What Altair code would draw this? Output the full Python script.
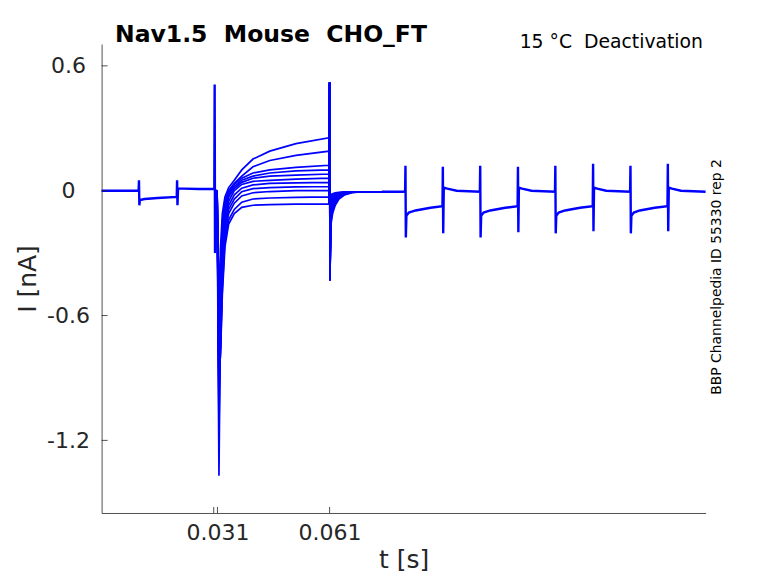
import altair as alt
import pandas as pd

# ---------------- data (times in ms, currents in nA) ----------------
PRE_T = [0, 9.9, 10.0, 10.1, 10.25, 11.5, 15, 20.1, 20.2, 20.3, 20.45, 22, 26, 30.15, 30.25, 30.35, 30.5, 30.9]
PRE_I = [0.0, 0.0, 0.05, -0.07, -0.045, -0.04, -0.035, -0.03, 0.05, -0.07, 0.01, 0.01, 0.008, 0.008, 0.51, -0.30, 0.0, 0.0]

ACT_T = [31.4, 31.8, 32.3, 33.0, 34.0, 35.5, 37.5, 40.5, 45, 52, 60.8]
ACT = [
    [-0.55, -0.28, -0.11, -0.03, 0.015, 0.05, 0.10, 0.152, 0.19, 0.226, 0.254],
    [-0.70, -0.36, -0.15, -0.05, 0.0, 0.035, 0.07, 0.115, 0.145, 0.17, 0.19],
    [-0.85, -0.44, -0.19, -0.07, -0.01, 0.03, 0.06, 0.085, 0.10, 0.112, 0.122],
    [-0.95, -0.50, -0.23, -0.09, -0.02, 0.02, 0.05, 0.07, 0.085, 0.095, 0.10],
    [-1.05, -0.56, -0.27, -0.11, -0.03, 0.01, 0.04, 0.06, 0.07, 0.075, 0.08],
    [-1.37, -0.62, -0.31, -0.13, -0.05, 0.0, 0.03, 0.045, 0.05, 0.056, 0.06],
    [-1.15, -0.68, -0.35, -0.15, -0.07, -0.02, 0.012, 0.028, 0.035, 0.038, 0.04],
    [-1.00, -0.72, -0.39, -0.18, -0.09, -0.04, -0.005, 0.01, 0.015, 0.018, 0.02],
    [-0.92, -0.75, -0.43, -0.21, -0.11, -0.06, -0.025, -0.01, -0.004, 0.0, 0.0],
    [-0.88, -0.78, -0.47, -0.24, -0.14, -0.09, -0.055, -0.04, -0.035, -0.032, -0.03],
    [-0.84, -0.80, -0.50, -0.27, -0.16, -0.11, -0.08, -0.07, -0.067, -0.065, -0.065],
]

SPIKE_T = [61.0, 61.1]
SPIKE_I = [0.52, -0.43]

TAIL_T = [61.3, 61.8, 62.5, 63.5, 65, 67, 70, 75]
TAIL = [
    [-0.17, -0.11, -0.07, -0.04, -0.02, -0.01, -0.005, -0.005],
    [-0.15, -0.10, -0.06, -0.035, -0.018, -0.008, -0.005, -0.005],
    [-0.13, -0.085, -0.05, -0.03, -0.015, -0.007, -0.005, -0.005],
    [-0.115, -0.075, -0.045, -0.027, -0.013, -0.006, -0.005, -0.005],
    [-0.10, -0.065, -0.04, -0.024, -0.012, -0.006, -0.005, -0.005],
    [-0.09, -0.058, -0.035, -0.021, -0.011, -0.006, -0.005, -0.005],
    [-0.075, -0.048, -0.03, -0.018, -0.01, -0.006, -0.005, -0.005],
    [-0.06, -0.04, -0.025, -0.015, -0.009, -0.006, -0.005, -0.005],
    [-0.045, -0.03, -0.02, -0.012, -0.008, -0.005, -0.005, -0.005],
    [-0.03, -0.02, -0.014, -0.01, -0.007, -0.005, -0.005, -0.005],
    [-0.02, -0.015, -0.01, -0.008, -0.006, -0.005, -0.005, -0.005],
]

POST_T = [75, 81.2, 81.3, 81.4, 81.55, 82.2, 84, 88, 91.2,
          91.3, 91.4, 91.55, 92.5, 95, 101.2,
          101.3, 101.4, 101.55, 102.2, 104, 108, 111.3,
          111.4, 111.5, 111.65, 112.5, 115, 121.3,
          121.4, 121.5, 121.65, 122.3, 124, 128, 131.4,
          131.5, 131.6, 131.75, 132.6, 135, 141.4,
          141.5, 141.6, 141.75, 142.4, 144, 148, 151.4,
          151.5, 151.6, 151.75, 152.6, 155, 161.6]
POST_I = [-0.005, -0.005, 0.12, -0.225, -0.12, -0.105, -0.095, -0.082, -0.075,
          0.115, -0.205, 0.015, 0.01, 0.0, -0.005,
          0.12, -0.225, -0.12, -0.105, -0.095, -0.082, -0.075,
          0.115, -0.20, 0.015, 0.01, 0.0, -0.005,
          0.12, -0.205, -0.12, -0.105, -0.095, -0.082, -0.075,
          0.13, -0.195, 0.015, 0.01, 0.0, -0.005,
          0.12, -0.205, -0.12, -0.105, -0.095, -0.082, -0.075,
          0.13, -0.195, 0.015, 0.01, 0.0, -0.005]

X_TICKS = [0.030, 0.031, 0.061]
Y_TICKS = [0.6, 0.0, -0.6, -1.2]

TITLE = "Nav1.5\u00a0 Mouse\u00a0 CHO_FT"
SUBTITLE = "15 \u00b0C\u00a0 Deactivation"
SIDE = "BBP Channelpedia ID 55330 rep 2"

# ---------------- build tables ----------------
rows = []
k = 0
for t, v in zip(PRE_T, PRE_I):
    rows.append({"t": t / 1000.0, "I": v, "sweep": "pre", "k": k}); k += 1
k = 0
for t, v in zip(POST_T, POST_I):
    rows.append({"t": t / 1000.0, "I": v, "sweep": "post", "k": k}); k += 1
shared = pd.DataFrame(rows)

rows = []
for s, (act, tail) in enumerate(zip(ACT, TAIL)):
    k = 0
    ts = [30.9] + ACT_T + SPIKE_T + TAIL_T
    vs = [0.0] + act + SPIKE_I + tail
    for t, v in zip(ts, vs):
        rows.append({"t": t / 1000.0, "I": v, "sweep": f"s{s}", "k": k}); k += 1
traces = pd.DataFrame(rows)

W, H = 604, 469
FONT = "DejaVu Sans"
AX = "#262626"
BLUE = "#0000ff"

xscale = alt.Scale(domain=[0, 0.1616], nice=False, zero=False)
yscale = alt.Scale(domain=[-1.549, 0.705], nice=False, zero=False)

xaxis = alt.Axis(values=X_TICKS, ticks=False, tickSize=0, grid=False,
                 labelExpr="abs(datum.value - 0.03) < 0.0001 ? '' : format(datum.value, '.3f')",
                 labelFont=FONT, labelFontSize=22, labelColor=AX, labelPadding=10,
                 labelFlush=False, labelOverlap=False,
                 domainColor=AX, domainWidth=0.8,
                 title="t [s]", titleFont=FONT, titleFontSize=25, titleFontWeight="normal",
                 titleColor=AX, titleBaseline="alphabetic", titleY=55, titleX=W / 2,
                 titleAlign="center")
yaxis = alt.Axis(values=Y_TICKS, ticks=False, tickSize=0, grid=False,
                 labelExpr="datum.value == 0 ? '0' : (datum.value < 0 ? '-' + format(-datum.value, '.1f') : format(datum.value, '.1f'))",
                 labelFont=FONT, labelFontSize=22, labelColor=AX, labelPadding=33.6,
                 labelAlign="center", labelBaseline="middle", labelFlush=False, labelOverlap=False,
                 domainColor=AX, domainWidth=0.8,
                 title="I [nA]", titleFont=FONT, titleFontSize=25, titleFontWeight="normal",
                 titleColor=AX, titleAngle=270, titleBaseline="alphabetic", titleAlign="center",
                 titleX=-66.5, titleY=H / 2)

X = alt.X("t:Q", scale=xscale, axis=xaxis)
Y = alt.Y("I:Q", scale=yscale, axis=yaxis)

base_shared = alt.Chart(shared).mark_line(color=BLUE, strokeWidth=2.4).encode(
    x=X, y=Y, detail="sweep:N", order="k:Q",
)

lines = alt.Chart(traces).mark_line(color=BLUE, strokeWidth=1.7).encode(
    x=X, y=Y, detail="sweep:N", order="k:Q",
)

xt = alt.Chart(pd.DataFrame({"t": X_TICKS})).mark_rule(color=AX, strokeWidth=0.8).encode(
    x=X, y=alt.value(H), y2=alt.value(H - 6),
)
yt = alt.Chart(pd.DataFrame({"I": Y_TICKS})).mark_rule(color=AX, strokeWidth=0.8).encode(
    y=Y, x=alt.value(0), x2=alt.value(6),
)

title = alt.Chart(pd.DataFrame({"txt": [TITLE]})).mark_text(
    font=FONT, fontSize=23.5, fontWeight="bold", color="#000000", align="left", baseline="alphabetic"
).encode(text="txt:N", x=alt.value(13.4), y=alt.value(-2.5))

sub = alt.Chart(pd.DataFrame({"txt": [SUBTITLE]})).mark_text(
    font=FONT, fontSize=18.8, color="#000000", align="right", baseline="alphabetic"
).encode(text="txt:N", x=alt.value(601.4), y=alt.value(4))

side = alt.Chart(pd.DataFrame({"txt": [SIDE]})).mark_text(
    font=FONT, fontSize=13.9, color="#000000", align="center", baseline="alphabetic", angle=270
).encode(text="txt:N", x=alt.value(619.5), y=alt.value(233))

chart = alt.layer(base_shared, lines, xt, yt, title, sub, side).properties(
    width=W, height=H,
    background="white",
    autosize=alt.AutoSizeParams(type="none"),
    padding={"left": 93.6, "top": 36, "right": 60, "bottom": 62},
).configure_view(stroke=None)

chart.save("out.html", embed_options={"renderer": "svg", "actions": False})
